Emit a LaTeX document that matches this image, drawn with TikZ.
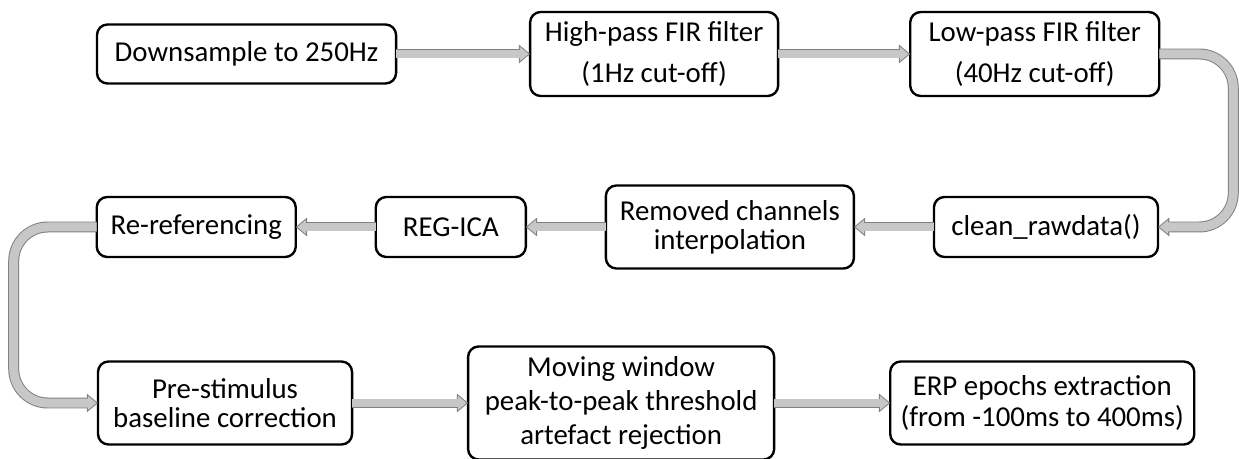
\documentclass[tikz,border=0pt]{standalone}
\usepackage{fontspec}
\setmainfont{Carlito}
\usetikzlibrary{
  arrows.meta,
  positioning,
}
\tikzset{
  x = 0.025cm,
  y = -0.025cm,
  stage/.style={
    draw, line width=1.7pt, rounded corners=7.5pt, align=center,
    minimum height=1.5cm, inner sep=0pt, outer sep=0pt,
    font=\fontsize{20.5}{20.5}\selectfont,
  },
  pipe/.style={
    draw=black!50, line width=6.4pt,
    -{Triangle[length=8pt, width=13.4pt, line width=0pt]},
    postaction={draw=black!22, line width=5pt,
      -{Triangle[length=6.1pt, width=10.2pt, line width=0pt]},
      shorten >=1.1pt},
  },
  uturn/.style={
    draw=black!50, line width=7.8pt, rounded corners=0.85cm,
    -{Triangle[length=8pt, width=13.4pt, line width=0pt]},
    postaction={draw=black!22, line width=6.4pt,
      -{Triangle[length=6.1pt, width=10.2pt, line width=0pt]},
      shorten >=1.1pt},
  },
}

\begin{document}
\begin{tikzpicture}
  \useasboundingbox (0,0) rectangle (1239,459);
  %% filtering
  \node[stage, anchor=west, minimum width=7.475cm, minimum height=1.475cm]
  (Down) at (97,54) {Downsample to 250Hz};
  \node[stage, right=3.35cm of Down, minimum width=6.2cm,
  minimum height=2.1cm, font=\fontsize{20.5}{29}\selectfont]
  (High) {High-pass FIR filter\\(1Hz cut-off)};
  \node[stage, right=3.3cm of High, minimum width=6.225cm,
  minimum height=2.1cm, font=\fontsize{20.5}{29}\selectfont]
  (Low) {Low-pass FIR filter\\(40Hz cut-off)};
  %% cleaning
  \node[stage, anchor=east, minimum width=5.6cm] (Clean) at (1158,227)
  {clean\_rawdata()};
  \node[stage, left=2cm of Clean, minimum width=6.2cm,
  minimum height=2.075cm]
  (Removed) {Removed channels\\interpolation};
  \node[stage, left=2cm of Removed, minimum width=3.75cm] (Regica) {REG-ICA};
  \node[stage, left=2cm of Regica, minimum width=4.975cm] (Reref)
  {Re-referencing};
  %% epoching
  \node[stage, anchor=west, minimum width=6.35cm, minimum height=2.075cm]
  (Pre) at (98,403) {Pre-stimulus\\baseline correction};
  \node[stage, right=2.9cm of Pre, minimum width=7.65cm,
  minimum height=2.825cm, font=\fontsize{20.5}{24}\selectfont]
  (Moving) {Moving window\\peak-to-peak threshold\\artefact rejection};
  \node[stage, right=2.9cm of Moving, minimum width=7.6cm,
  minimum height=2.075cm, font=\fontsize{20.5}{21.5}\selectfont]
  (Erp) {ERP epochs extraction\\(from -100ms to 400ms)};
  %%
  \draw[pipe] (Down) -- (High);
  \draw[pipe] (High) -- (Low);
  \draw[uturn] (Low.east) -- ++(74,0) |- (Clean.east);
  \draw[pipe] (Clean) -- (Removed);
  \draw[pipe] (Removed) -- (Regica);
  \draw[pipe] (Regica) -- (Reref);
  \draw[uturn] (Reref.west) -- ++(-83,0) |- (Pre.west);
  \draw[pipe] (Pre) -- (Moving);
  \draw[pipe] (Moving) -- (Erp);
\end{tikzpicture}
\end{document}
